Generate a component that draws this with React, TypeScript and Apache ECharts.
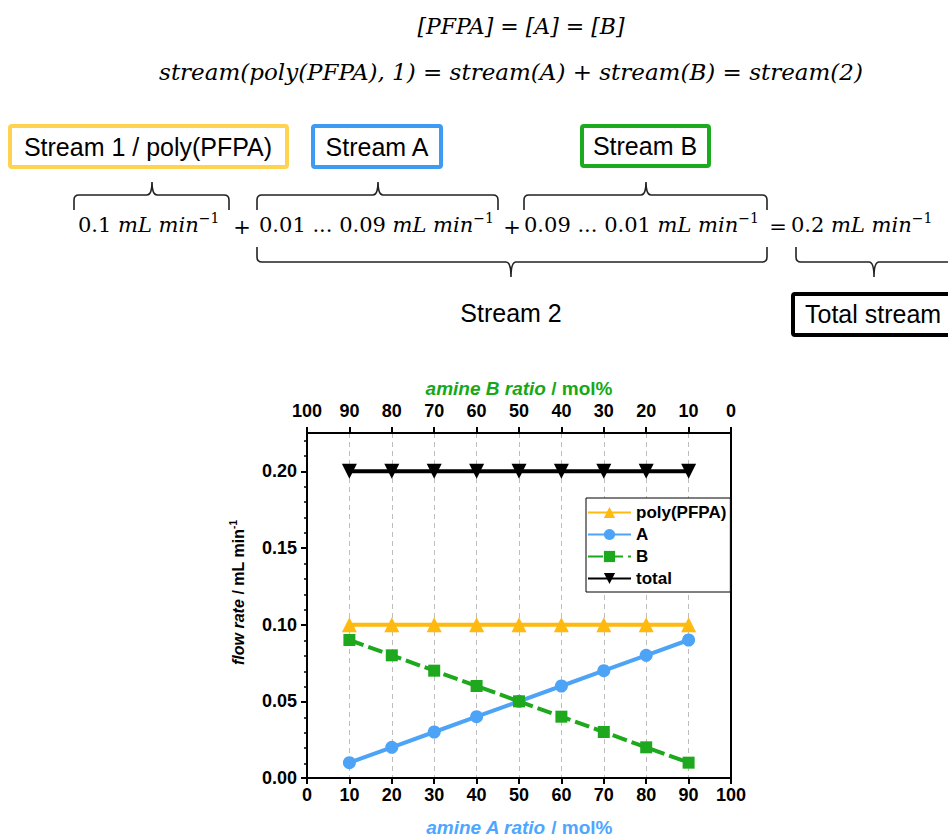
import React, { useEffect, useRef } from "react";
import * as echarts from "echarts";

// ---- data ----
const aRatio = [10, 20, 30, 40, 50, 60, 70, 80, 90];
const polyFlow = [0.1, 0.1, 0.1, 0.1, 0.1, 0.1, 0.1, 0.1, 0.1];
const aFlow = [0.01, 0.02, 0.03, 0.04, 0.05, 0.06, 0.07, 0.08, 0.09];
const bFlow = [0.09, 0.08, 0.07, 0.06, 0.05, 0.04, 0.03, 0.02, 0.01];
const totalFlow = [0.2, 0.2, 0.2, 0.2, 0.2, 0.2, 0.2, 0.2, 0.2];
const seriesNames = ["poly(PFPA)", "A", "B", "total"];
const yMajorTicks = [0, 0.05, 0.1, 0.15, 0.2];
const yMinorTicks = [
  0.01, 0.02, 0.03, 0.04, 0.06, 0.07, 0.08, 0.09, 0.11, 0.12, 0.13, 0.14,
  0.16, 0.17, 0.18, 0.19, 0.21, 0.22,
];

// ---- style ----
const SANS = '"Liberation Sans", Arial, sans-serif';
const SERIF = '"DejaVu Serif", serif';
const C_POLY = "#FFB90F";
const C_A = "#4DA3F5";
const C_B = "#1DA81D";
const C_TOTAL = "#000000";
const C_NAME_A = "#4DA6FF";
const C_NAME_B = "#17A817";

type Brace = { x1: number; x2: number; tip: number; yLine: number; yEnd: number; yTip: number };
const braces: Brace[] = [
  { x1: 74, x2: 229, tip: 152, yLine: 195, yEnd: 210, yTip: 182 },
  { x1: 257, x2: 498, tip: 378, yLine: 195, yEnd: 210, yTip: 182 },
  { x1: 524, x2: 767, tip: 646, yLine: 195, yEnd: 210, yTip: 182 },
  { x1: 257, x2: 767, tip: 511, yLine: 262, yEnd: 247, yTip: 277 },
  { x1: 796, x2: 952, tip: 874, yLine: 262, yEnd: 247, yTip: 277 },
];

function bracePath(b: Brace): string {
  const r = 5;
  const d = b.yEnd > b.yLine ? r : -r;
  return (
    `M${b.x1} ${b.yEnd} L${b.x1} ${b.yLine + d} Q${b.x1} ${b.yLine} ${b.x1 + r} ${b.yLine} ` +
    `L${b.tip - r} ${b.yLine} Q${b.tip} ${b.yLine} ${b.tip} ${b.yTip} ` +
    `Q${b.tip} ${b.yLine} ${b.tip + r} ${b.yLine} L${b.x2 - r} ${b.yLine} ` +
    `Q${b.x2} ${b.yLine} ${b.x2} ${b.yLine + d} L${b.x2} ${b.yEnd}`
  );
}

const eqRich = {
  n: { fontFamily: SERIF, fontSize: 21, lineHeight: 28, color: "#000" },
  i: { fontFamily: SERIF, fontSize: 21, fontStyle: "italic", lineHeight: 28, color: "#000" },
  s: { fontFamily: SERIF, fontSize: 14, lineHeight: 14, verticalAlign: "top", color: "#000" },
};

function eqPiece(x: number, num: string) {
  return {
    type: "text",
    x,
    y: 225,
    style: {
      text: `{n|${num}}{i|mL min}{s|\u22121}`,
      rich: eqRich,
      align: "left",
      verticalAlign: "middle",
      fill: "#000",
    },
  };
}

function opText(x: number, y: number, t: string) {
  return {
    type: "text",
    x,
    y,
    style: {
      text: t,
      fontFamily: SERIF,
      fontSize: 21,
      fill: "#000",
      align: "center",
      verticalAlign: "middle",
    },
  };
}

function boxRect(x: number, y: number, w: number, h: number, color: string) {
  return {
    type: "rect",
    shape: { x, y, width: w, height: h, r: 2 },
    style: { fill: "#fff", stroke: color, lineWidth: 4 },
  };
}

function sansText(x: number, y: number, t: string, align: string) {
  return {
    type: "text",
    x,
    y,
    style: {
      text: t,
      fontFamily: SANS,
      fontSize: 25,
      fill: "#000",
      align,
      verticalAlign: "middle",
    },
  };
}

const axisLabelStyle = {
  fontFamily: SANS,
  fontSize: 18,
  fontWeight: "bold",
  color: "#000",
};

function axisNameStyle(color: string) {
  return {
    fontFamily: SANS,
    fontSize: 19,
    fontWeight: "bold",
    color,
    rich: {
      i: { fontFamily: SANS, fontSize: 19, fontWeight: "bold", fontStyle: "italic", color },
    },
  };
}

const GRID_POS = { left: 307, right: 217, top: 433, bottom: 59 };

export default function App() {
  const ref = useRef<HTMLDivElement>(null);
  useEffect(() => {
    if (!ref.current) return;
    const chart = echarts.init(ref.current, null, { renderer: "svg" });

    braces.forEach((b, i) => {
      echarts.graphic.registerShape("brace" + i, echarts.graphic.extendPath(bracePath(b), {}) as any);
    });

    const pair = (vals: number[]) => aRatio.map((x, i) => [x, vals[i]]);

    const graphics: any[] = [
      {
        type: "text",
        x: 521,
        y: 26,
        style: {
          text: "[PFPA] = [A] = [B]",
          fontFamily: SERIF,
          fontStyle: "italic",
          fontSize: 22,
          fill: "#000",
          align: "center",
          verticalAlign: "middle",
        },
      },
      {
        type: "text",
        x: 511,
        y: 72,
        style: {
          text: "stream(poly(PFPA), 1) = stream(A) + stream(B) = stream(2)",
          fontFamily: SERIF,
          fontStyle: "italic",
          fontSize: 23,
          fill: "#000",
          align: "center",
          verticalAlign: "middle",
        },
      },
      boxRect(10, 126, 277, 41, "#FFD350"),
      boxRect(313, 126, 128, 41, "#3D9CF2"),
      boxRect(582, 126, 127, 40, "#1EAA1E"),
      boxRect(793, 294, 170, 41, "#000000"),
      sansText(148, 147, "Stream 1 / poly(PFPA)", "center"),
      sansText(377, 147, "Stream A", "center"),
      sansText(645, 146, "Stream B", "center"),
      sansText(511, 313, "Stream 2", "center"),
      sansText(805, 314, "Total stream", "left"),
      eqPiece(78, "0.1 "),
      opText(242, 227, "+"),
      eqPiece(259, "0.01 ... 0.09 "),
      opText(512, 227, "+"),
      eqPiece(524, "0.09 ... 0.01 "),
      opText(778, 227, "="),
      eqPiece(791, "0.2 "),
      ...braces.map((_, i) => ({
        type: "brace" + i,
        style: { fill: "none", stroke: "#222", lineWidth: 1.6 },
      })),
    ];

    const option: any = {
      animation: false,
      backgroundColor: "#fff",
      grid: [
        {
          ...GRID_POS,
          show: true,
          borderColor: "#000",
          borderWidth: 2,
          backgroundColor: "transparent",
        },
        { ...GRID_POS, show: false },
      ],
      legend: {
        data: seriesNames,
        orient: "vertical",
        left: 586,
        top: 498,
        itemWidth: 43,
        itemHeight: 14,
        itemGap: 5,
        padding: [6, 4, 5, 1],
        borderColor: "#000",
        borderWidth: 1,
        backgroundColor: "#fff",
        textStyle: { fontFamily: SANS, fontSize: 17, fontWeight: "bold", color: "#000" },
        z: 10,
      },
      xAxis: [
        {
          type: "value",
          gridIndex: 0,
          position: "bottom",
          min: 0,
          max: 100,
          interval: 10,
          axisLine: { show: true, lineStyle: { color: "#000", width: 2 } },
          axisTick: { show: true, inside: false, length: 6, lineStyle: { color: "#000", width: 2 } },
          axisLabel: { ...axisLabelStyle, margin: 8 },
          splitLine: {
            show: true,
            showMinLine: false,
            showMaxLine: false,
            lineStyle: { color: "#BDBDBD", width: 1, type: [5, 4] },
          },
          name: "{i|amine A ratio} / mol%",
          nameLocation: "middle",
          nameGap: 40,
          nameTextStyle: axisNameStyle(C_NAME_A),
        },
        {
          type: "value",
          gridIndex: 0,
          position: "top",
          inverse: true,
          min: 0,
          max: 100,
          interval: 10,
          axisLine: { show: true, lineStyle: { color: "#000", width: 2 } },
          axisTick: { show: true, inside: false, length: 6, lineStyle: { color: "#000", width: 2 } },
          axisLabel: { ...axisLabelStyle, margin: 13 },
          splitLine: { show: false },
          name: "{i|amine B ratio} / mol%",
          nameLocation: "middle",
          nameGap: 35,
          nameTextStyle: axisNameStyle(C_NAME_B),
        },
        {
          type: "value",
          gridIndex: 1,
          position: "bottom",
          min: 0,
          max: 100,
          show: false,
        },
      ],
      yAxis: [
        {
          type: "value",
          gridIndex: 0,
          position: "left",
          min: 0,
          max: 0.225,
          axisLine: { show: true, lineStyle: { color: "#000", width: 2 } },
          axisTick: {
            show: true,
            inside: false,
            length: 6,
            lineStyle: { color: "#000", width: 2 },
            customValues: yMajorTicks,
          },
          axisLabel: {
            ...axisLabelStyle,
            margin: 10,
            customValues: yMajorTicks,
            formatter: (v: number) => v.toFixed(2),
          },
          splitLine: { show: false },
          name: "{it|flow rate} / mL min{sup|-1}",
          nameLocation: "middle",
          nameRotate: 90,
          nameGap: 59,
          nameTextStyle: {
            fontFamily: SANS,
            fontSize: 16,
            fontWeight: "bold",
            color: "#000",
            lineHeight: 20,
            padding: [0, 0, 0, 26],
            rich: {
              it: { fontFamily: SANS, fontSize: 16, fontWeight: "bold", fontStyle: "italic", color: "#000", lineHeight: 20 },
              sup: { fontFamily: SANS, fontSize: 10, fontWeight: "bold", color: "#000", lineHeight: 10, verticalAlign: "top" },
            },
          },
        },
        {
          // minor ticks of the left axis, on an overlaid grid
          type: "value",
          gridIndex: 1,
          position: "left",
          min: 0,
          max: 0.225,
          axisLine: { show: false },
          axisTick: {
            show: true,
            inside: false,
            length: 3,
            lineStyle: { color: "#000", width: 1.5 },
            customValues: yMinorTicks,
          },
          axisLabel: { show: false },
          splitLine: { show: false },
        },
      ],
      series: [
        {
          name: seriesNames[0],
          type: "line",
          xAxisIndex: 0,
          yAxisIndex: 0,
          data: pair(polyFlow),
          symbol: "triangle",
          symbolSize: 15,
          lineStyle: { color: C_POLY, width: 4 },
          itemStyle: { color: C_POLY },
          z: 3,
        },
        {
          name: seriesNames[1],
          type: "line",
          xAxisIndex: 0,
          yAxisIndex: 0,
          data: pair(aFlow),
          symbol: "circle",
          symbolSize: 13,
          lineStyle: { color: C_A, width: 4 },
          itemStyle: { color: C_A },
          z: 3,
        },
        {
          name: seriesNames[2],
          type: "line",
          xAxisIndex: 0,
          yAxisIndex: 0,
          data: pair(bFlow),
          symbol: "rect",
          symbolSize: 12,
          lineStyle: { color: C_B, width: 4, type: [15, 5] },
          itemStyle: { color: C_B },
          z: 4,
        },
        {
          name: seriesNames[3],
          type: "line",
          xAxisIndex: 0,
          yAxisIndex: 0,
          data: pair(totalFlow),
          symbol: "triangle",
          symbolRotate: 180,
          symbolSize: 15,
          lineStyle: { color: C_TOTAL, width: 4 },
          itemStyle: { color: C_TOTAL },
          z: 3,
        },
      ],
      graphic: graphics,
    };

    chart.setOption(option);
    return () => chart.dispose();
  }, []);

  return (
    <div
      ref={ref}
      style={{ position: "fixed", left: 0, top: 0, width: 948, height: 838, background: "#fff" }}
    />
  );
}
